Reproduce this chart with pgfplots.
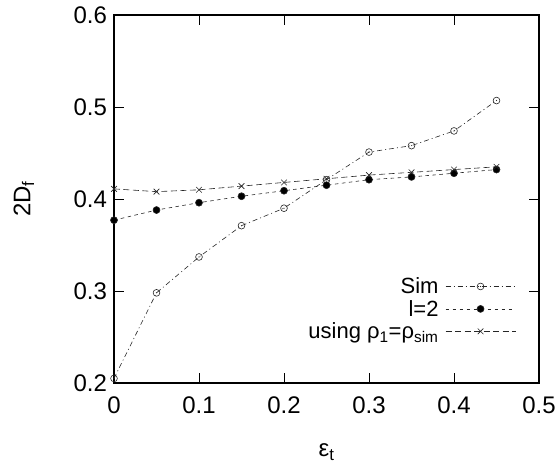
\documentclass[border=0pt]{standalone}
\usepackage{fontspec}
\setmainfont{Liberation Sans}
\usepackage{pgfplots}
\pgfplotsset{compat=1.18}
\pgfdeclareplotmark{odot}{%
  \pgfpathcircle{\pgfpointorigin}{\pgfplotmarksize}\pgfusepathqstroke
  \pgfpathcircle{\pgfpointorigin}{0.6pt}\pgfusepathqfill}
\begin{document}
\begin{tikzpicture}
\begin{axis}[
  scale only axis, width=425pt, height=368pt,
  xmin=0, xmax=0.5, ymin=0.2, ymax=0.6,
  xtick={0,0.1,0.2,0.3,0.4,0.5}, ytick={0.2,0.3,0.4,0.5,0.6},
  xticklabels={0,0.1,0.2,0.3,0.4,0.5}, yticklabels={0.2,0.3,0.4,0.5,0.6},
  tick align=inside, major tick length=10pt,
  axis line style={line width=1.3pt}, tick style={line width=1pt, black},
  tick label style={font=\fontsize{24}{27}\selectfont},
  label style={font=\fontsize{24}{27}\selectfont},
  xticklabel style={yshift=-10pt}, yticklabel style={xshift=-3.5pt},
  /pgf/number format/assume math mode=true,
  xlabel={ε\textsubscript{t}}, ylabel={2D\textsubscript{f}},
  xlabel style={at={(axis description cs:0.5,-0.200)}, anchor=base},
  ylabel style={at={(axis description cs:-0.212,0.5)}, anchor=center},
  legend style={draw=none, fill=none, at={(0.946,0.292)}, anchor=north east,
    font=\fontsize{22}{25}\selectfont, row sep=1pt, inner sep=0pt,
    nodes={inner sep=2pt}},
  legend cell align=right, legend plot pos=right,
  legend image code/.code={\path[draw=none,fill=none] (0pt,0pt) -- (5pt,0pt); \draw[#1,mark repeat=2,mark phase=2] plot coordinates {(5pt,0pt) (40pt,0pt) (75pt,0pt)};},
]
\addplot[black!85, line width=0.6pt, dash pattern=on 5pt off 3pt on 1pt off 3pt, mark=odot, mark size=3.4pt, mark options={solid, line width=0.6pt}]
coordinates {(0,0.205) (0.05,0.298) (0.1,0.337) (0.15,0.371) (0.2,0.390) (0.25,0.421) (0.3,0.451) (0.35,0.458) (0.4,0.474) (0.45,0.507)};
\addlegendentry{Sim}
\addplot[black!85, line width=0.6pt, dash pattern=on 3.5pt off 3.5pt, mark=*, mark size=3.5pt, mark options={solid, fill=black}]
coordinates {(0,0.377) (0.05,0.388) (0.1,0.396) (0.15,0.403) (0.2,0.409) (0.25,0.415) (0.3,0.421) (0.35,0.424) (0.4,0.428) (0.45,0.432)};
\addlegendentry{l=2}
\addplot[black!85, line width=0.6pt, dash pattern=on 6pt off 3.5pt, mark=x, mark size=4pt, mark options={solid, line width=0.6pt}]
coordinates {(0,0.411) (0.05,0.408) (0.1,0.410) (0.15,0.414) (0.2,0.418) (0.25,0.422) (0.3,0.426) (0.35,0.429) (0.4,0.432) (0.45,0.435)};
\addlegendentry{using ρ\textsubscript{1}=ρ\textsubscript{sim}}
\end{axis}
\pgfresetboundingbox
\path ([shift={(-114pt,-81pt)}]current axis.south west) rectangle ([shift={(19pt,15pt)}]current axis.north east);
\end{tikzpicture}
\end{document}
